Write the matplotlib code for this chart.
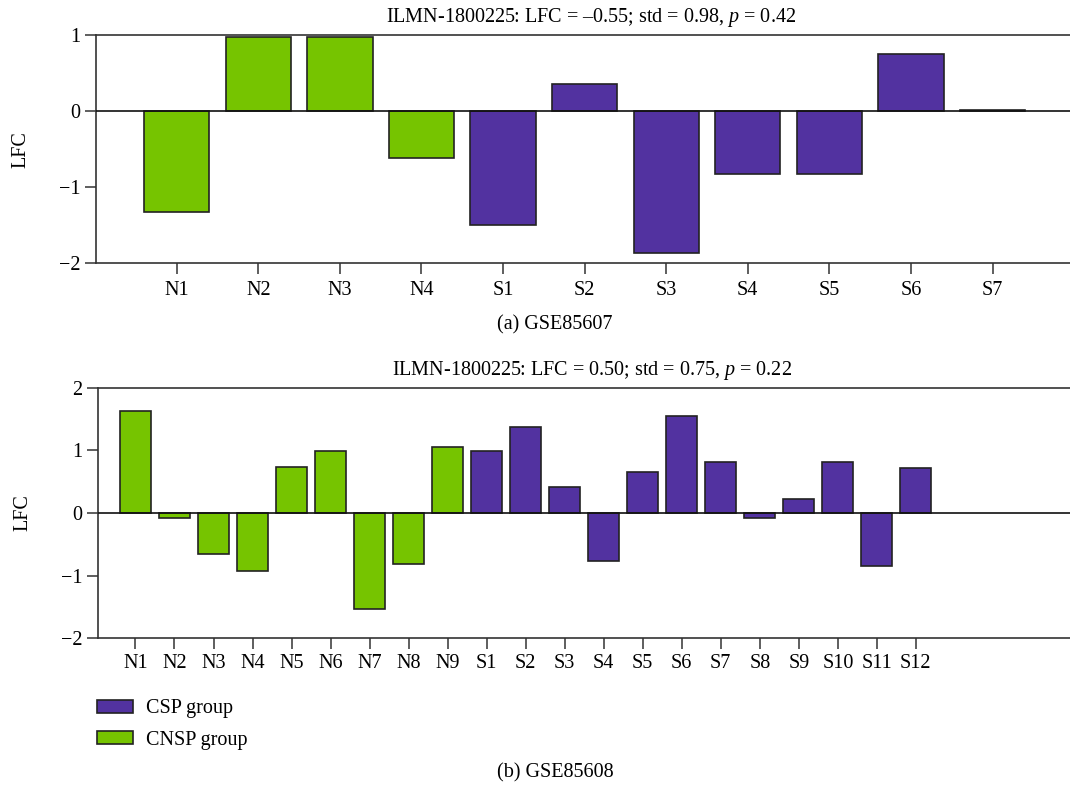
import matplotlib
matplotlib.use("Agg")
import matplotlib.pyplot as plt

plt.rcParams['font.family'] = ['Liberation Serif', 'DejaVu Serif']
plt.rcParams['mathtext.fontset'] = 'custom'
plt.rcParams['mathtext.rm'] = 'Liberation Serif'
plt.rcParams['mathtext.it'] = 'Liberation Serif:italic'

green = '#76c400'
purple = '#5232a0'
fs = 14.5

# panel (a) GSE85607
labels_a = ['N1', 'N2', 'N3', 'N4', 'S1', 'S2', 'S3', 'S4', 'S5', 'S6', 'S7']
lfc_a = [-1.33, 0.97, 0.97, -0.62, -1.50, 0.36, -1.87, -0.83, -0.83, 0.75, 0.02]
title_a = 'ILMN-1800225: LFC = \u20130.55; std = 0.98, $p$ = 0.42'

# panel (b) GSE85608
labels_b = ['N1', 'N2', 'N3', 'N4', 'N5', 'N6', 'N7', 'N8', 'N9',
            'S1', 'S2', 'S3', 'S4', 'S5', 'S6', 'S7', 'S8', 'S9', 'S10', 'S11', 'S12']
lfc_b = [1.63, -0.08, -0.65, -0.92, 0.73, 0.99, -1.53, -0.81, 1.06,
         0.99, 1.38, 0.42, -0.77, 0.65, 1.55, 0.81, -0.08, 0.23, 0.81, -0.85, 0.72]
title_b = 'ILMN-1800225: LFC = 0.50; std = 0.75, $p$ = 0.22'

fig = plt.figure(figsize=(10.7, 7.93), dpi=100)
ax1 = fig.add_axes([96/1070, 1-263.3/793, 1-96/1070, (263.3-35)/793])
ax2 = fig.add_axes([98/1070, 1-638.3/793, 1-98/1070, (638.3-387.7)/793])


def draw(ax, labels, vals, title, ylim, yticks, xlim):
    cols = [green if l.startswith('N') else purple for l in labels]
    x = list(range(len(labels)))
    bars = ax.bar(x, vals, width=0.8, color=cols, edgecolor='#222222', linewidth=1.2, zorder=2)
    ax.axhline(0, color='#111111', linewidth=1.2, zorder=3)
    ax.set_xlim(*xlim)
    ax.set_ylim(*ylim)
    ax.set_yticks(yticks)
    ax.set_xticks(x)
    ax.set_xticklabels(labels)
    ax.spines['right'].set_visible(False)
    for s in ['left', 'top', 'bottom']:
        ax.spines[s].set_linewidth(1.2)
        ax.spines[s].set_color('#333333')
    ax.tick_params(axis='both', direction='out', length=8, width=1.1, labelsize=fs, color='#333333')
    ax.tick_params(axis='x', pad=5)
    ax.set_ylabel('LFC', fontsize=fs, labelpad=20)
    ax.set_title(title, fontsize=fs, pad=9, x=0.508)
    return bars


bars_a = draw(ax1, labels_a, lfc_a, title_a, (-2, 1), [-2, -1, 0, 1], (-0.99, 10.95))
bars_b = draw(ax2, labels_b, lfc_b, title_b, (-2, 2), [-2, -1, 0, 1, 2], (-0.96, 23.95))

ax2.tick_params(axis='x', pad=3)

fig.text(555/1070, 1-325/793, '(a) GSE85607', ha='center', va='center', fontsize=fs)
fig.text(555/1070, 1-773/793, '(b) GSE85608', ha='center', va='center', fontsize=fs)

fig.legend(handles=[bars_b[9], bars_b[0]], labels=['CSP group', 'CNSP group'],
           loc='upper left', bbox_to_anchor=(79/1070, 1-681/793), frameon=False,
           fontsize=fs, handlelength=1.8, handleheight=0.62, labelspacing=0.62, handletextpad=0.65)

fig.savefig('out.png', dpi=100)
